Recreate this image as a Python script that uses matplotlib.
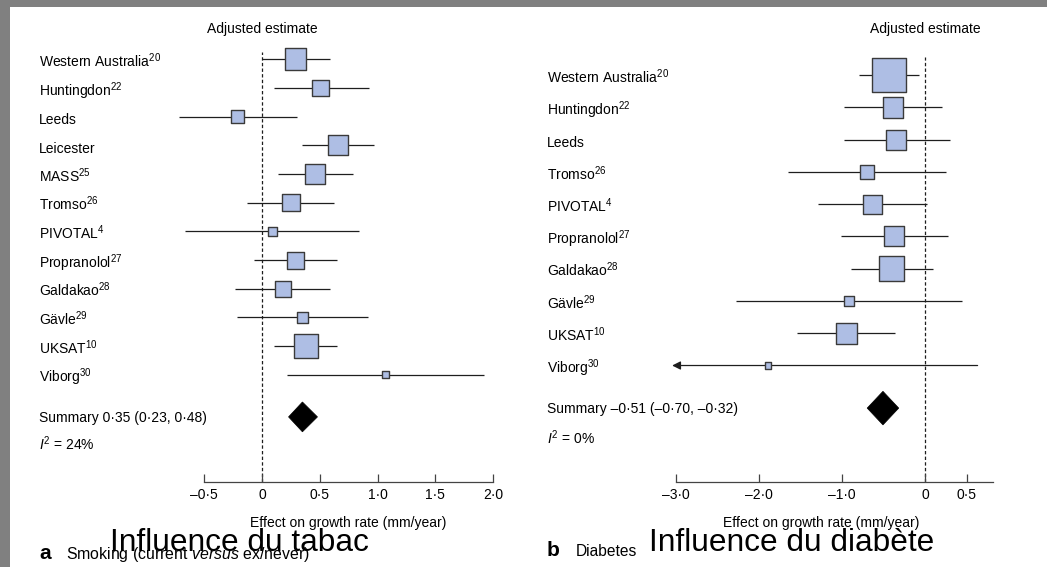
import matplotlib
matplotlib.use("Agg")
import matplotlib.pyplot as plt
from matplotlib import transforms
from matplotlib.patches import Polygon, Rectangle
import numpy as np

W, H = 1047, 567

# (a) smoking, current versus ex/never
smoke_studies = ["Western Australia", "Huntingdon", "Leeds", "Leicester", "MASS", "Tromso",
                 "PIVOTAL", "Propranolol", "Galdakao", "Gävle", "UKSAT", "Viborg"]
smoke_refs = ["20", "22", "", "", "25", "26", "4", "27", "28", "29", "10", "30"]
smoke_est = [0.29, 0.51, -0.21, 0.66, 0.46, 0.25, 0.09, 0.29, 0.18, 0.35, 0.38, 1.07]
smoke_lo = [0.00, 0.10, -0.72, 0.35, 0.14, -0.13, -0.67, -0.07, -0.23, -0.22, 0.10, 0.22]
smoke_hi = [0.59, 0.93, 0.30, 0.97, 0.79, 0.62, 0.84, 0.65, 0.59, 0.92, 0.65, 1.92]
smoke_weight = [14.0, 8.5, 5.5, 11.6, 11.2, 9.1, 2.6, 8.5, 7.7, 3.1, 16.9, 1.4]
smoke_summary = (0.35, 0.23, 0.48)
smoke_i2 = 24
smoke_ticks = [-0.5, 0, 0.5, 1.0, 1.5, 2.0]

# (b) diabetes
diab_studies = ["Western Australia", "Huntingdon", "Leeds", "Tromso", "PIVOTAL",
                "Propranolol", "Galdakao", "Gävle", "UKSAT", "Viborg"]
diab_refs = ["20", "22", "", "26", "4", "27", "28", "29", "10", "30"]
diab_est = [-0.44, -0.39, -0.35, -0.70, -0.64, -0.38, -0.41, -0.92, -0.95, -1.89]
diab_lo = [-0.80, -0.98, -0.98, -1.66, -1.29, -1.02, -0.90, -2.28, -1.55, -4.41]
diab_hi = [-0.08, 0.20, 0.30, 0.25, 0.02, 0.27, 0.09, 0.44, -0.36, 0.63]
diab_weight = [28.5, 10.4, 9.5, 4.7, 8.7, 9.6, 14.9, 2.1, 10.6, 0.9]
diab_summary = (-0.51, -0.70, -0.32)
diab_i2 = 0
diab_ticks = [-3.0, -2.0, -1.0, 0, 0.5]

BOX_FILL = "#aebee4"
BOX_EDGE = "#3a3a3a"
LINE = "#1e1e1e"

plt.rcParams.update({
    "font.family": "Liberation Sans",
    "mathtext.fontset": "custom",
    "mathtext.rm": "Liberation Sans",
    "mathtext.it": "Liberation Sans:italic",
    "mathtext.bf": "Liberation Sans:bold",
})


def fx(px):
    return px / W


def fy(py):
    return 1 - py / H


def num(v, nd):
    if v == 0:
        return "0"
    s = f"{abs(v):.{nd}f}".replace(".", "\u00b7")
    return ("\u2013" if v < 0 else "") + s


def draw_panel(fig, rect_px, xlim, ylim, studies, refs, est, lo, hi, weight, summary, i2,
               ticks, spine_hi, box_k, sum_row, label_px, xmin_show=None):
    x0, y0, x1, y1 = rect_px
    ax = fig.add_axes([fx(x0), fy(y1), fx(x1 - x0), (y1 - y0) / H])
    ax.set_xlim(*xlim)
    ax.set_ylim(*ylim)
    ax.patch.set_alpha(0)
    for side in ("top", "right", "left"):
        ax.spines[side].set_visible(False)
    ax.spines["bottom"].set_bounds(ticks[0], spine_hi)
    ax.spines["bottom"].set_color("#444444")
    ax.spines["bottom"].set_linewidth(0.9)
    ax.set_yticks([])
    ax.set_xticks(ticks)
    ax.set_xticklabels([num(t, 1) for t in ticks])
    ax.tick_params(axis="x", direction="in", length=5.5, width=0.9, color="#444444",
                   labelsize=10, pad=4, labelcolor="black")

    ax.axvline(0, color=LINE, lw=0.9, linestyle=(0, (2.7, 1.8)), zorder=1)

    rows = np.arange(len(studies))
    for r, e, l, h in zip(rows, est, lo, hi):
        if xmin_show is not None and l < xmin_show:
            ax.annotate("", xy=(xmin_show, r), xytext=(h, r),
                        arrowprops=dict(arrowstyle="-|>,head_length=0.5,head_width=0.25",
                                        color=LINE, lw=0.9, shrinkA=0, shrinkB=0),
                        zorder=2)
        else:
            ax.plot([l, h], [r, r], color=LINE, lw=0.9, zorder=2, solid_capstyle="butt")
    side_pt = box_k * np.sqrt(np.asarray(weight)) * 0.72
    ax.scatter(est, rows, s=side_pt ** 2, marker="s", facecolor=BOX_FILL,
               edgecolor=BOX_EDGE, linewidth=1.0, zorder=3, clip_on=False)

    se, sl, sh = summary
    hh = 0.52
    ax.add_patch(Polygon([(sl, sum_row), (se, sum_row - hh), (sh, sum_row), (se, sum_row + hh)],
                         closed=True, facecolor="black", edgecolor="black", lw=0.5,
                         zorder=3, clip_on=False))

    lab_tr = transforms.blended_transform_factory(fig.transFigure, ax.transData)
    study_tr = lab_tr + transforms.ScaledTranslation(0, -5.5 / 72, fig.dpi_scale_trans)
    sum_tr = lab_tr + transforms.ScaledTranslation(0, -3.5 / 72, fig.dpi_scale_trans)
    for r, name, ref in zip(rows, studies, refs):
        txt = f"{name}$^{{{ref}}}$" if ref else name
        ax.text(fx(label_px), r, txt, transform=study_tr, fontsize=10,
                ha="left", va="baseline")
    ax.text(fx(label_px), sum_row,
            f"Summary {num(se, 2)} ({num(sl, 2)}, {num(sh, 2)})",
            transform=sum_tr, fontsize=10, ha="left", va="baseline")
    ax.text(fx(label_px), sum_row + 0.97, f"$I^2$ = {i2}%",
            transform=sum_tr, fontsize=10, ha="left", va="baseline")

    top_tr = transforms.blended_transform_factory(ax.transData, fig.transFigure)
    ax.text(0, fy(33.5), "Adjusted estimate", transform=top_tr, fontsize=10,
            ha="center", va="baseline")
    ax.text((ticks[0] + ticks[-1]) / 2, fy(526.5), "Effect on growth rate (mm/year)",
            transform=top_tr, fontsize=10, ha="center", va="baseline")
    return ax


fig = plt.figure(figsize=(W / 100, H / 100), dpi=100)
fig.patch.set_facecolor("#808080")
fig.add_artist(Rectangle((fx(10), 0), 1 - fx(10), fy(7), transform=fig.transFigure,
                         facecolor="white", edgecolor="none", zorder=0))

draw_panel(fig, (160, 52, 500, 482), (-0.882, 2.059), (14.74, -0.255),
           smoke_studies, smoke_refs, smoke_est, smoke_lo, smoke_hi, smoke_weight,
           smoke_summary, smoke_i2, smoke_ticks, 2.0, 5.8,
           len(smoke_studies) + 0.47, 39)

draw_panel(fig, (660, 57, 1000, 482), (-3.196, 0.900), (12.61, -0.561),
           diab_studies, diab_refs, diab_est, diab_lo, diab_hi, diab_weight,
           diab_summary, diab_i2, diab_ticks, 0.81, 6.45,
           len(diab_studies) + 0.32, 547, xmin_show=-3.05)

# panel captions
fig.text(fx(39), fy(559), "a", fontsize=15, fontweight="bold", ha="left", va="baseline")
fig.text(fx(66), fy(559), "Smoking (current $\\mathit{versus}$ ex/never)", fontsize=11.4,
         ha="left", va="baseline")
fig.text(fx(547), fy(556), "b", fontsize=15, fontweight="bold", ha="left", va="baseline")
fig.text(fx(576), fy(556), "Diabetes", fontsize=11.2, ha="left", va="baseline")

fig.text(fx(110), fy(551), "Influence du tabac", fontsize=22.8, ha="left", va="baseline")
fig.text(fx(649), fy(551), "Influence du diabète", fontsize=22.8, ha="left", va="baseline")

fig.savefig("out.png", dpi=100, facecolor=fig.get_facecolor())
